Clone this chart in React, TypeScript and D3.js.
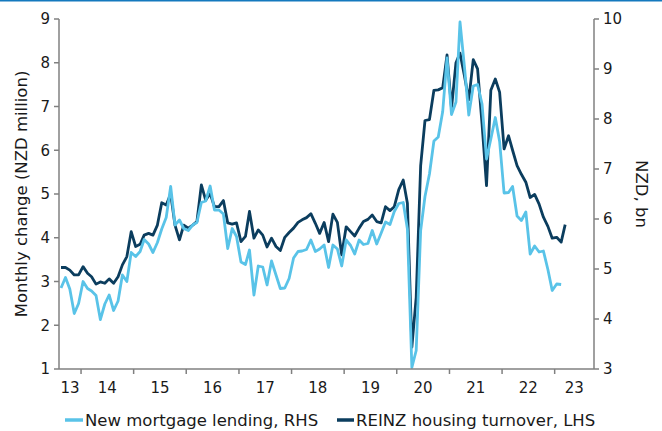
import React from 'react';
import * as d3 from 'd3';

// Monthly data starting August 2013
const START_YEAR = 2013;
const START_MONTH = 7; // 0-based: August

const yearLabels = ['13', '14', '15', '16', '17', '18', '19', '20', '21', '22', '23'];
const labelYears = [2013, 2014, 2015, 2016, 2017, 2018, 2019, 2020, 2021, 2022, 2023];
const tickYears = [2014, 2015, 2016, 2017, 2018, 2019, 2020, 2021, 2022, 2023];
const leftTicks = [1, 2, 3, 4, 5, 6, 7, 8, 9];
const rightTicks = [3, 4, 5, 6, 7, 8, 9, 10];

// REINZ housing turnover, LHS
const turnover = [
  3.32, 3.32, 3.26, 3.15, 3.15, 3.34, 3.19, 3.11, 2.94, 2.99,
  2.96, 3.06, 2.96, 3.11, 3.38, 3.57, 4.14, 3.80, 3.85, 4.06,
  4.10, 4.06, 4.29, 4.80, 4.75, 5.00, 4.29, 3.95, 4.29, 4.22,
  4.29, 4.37, 5.21, 4.86, 5.01, 4.71, 4.71, 4.85, 4.34, 4.31,
  4.34, 3.91, 4.03, 4.60, 3.99, 4.18, 4.06, 3.79, 3.99, 3.80,
  3.71, 4.01, 4.12, 4.22, 4.35, 4.41, 4.46, 4.55, 4.33, 4.10,
  4.35, 3.91, 4.54, 4.35, 3.61, 4.25, 4.14, 4.04, 4.22, 4.37,
  4.42, 4.52, 4.37, 4.34, 4.71, 4.62, 4.71, 5.10, 5.32, 4.79,
  1.50, 2.64, 5.65, 6.68, 6.70, 7.37, 7.38, 7.43, 8.18, 6.96,
  8.00, 8.22, 7.70, 7.15, 8.07, 7.86, 6.60, 5.19, 7.37, 7.63,
  7.33, 6.03, 6.33, 6.00, 5.65, 5.45, 5.27, 4.92, 4.99, 4.77,
  4.47, 4.26, 3.99, 4.01, 3.90, 4.30,
];

// New mortgage lending, RHS
const mortgage = [
  4.62, 4.83, 4.60, 4.11, 4.31, 4.75, 4.61, 4.56, 4.47, 3.99,
  4.30, 4.48, 4.17, 4.36, 4.88, 4.75, 5.33, 5.25, 5.35, 5.59,
  5.50, 5.33, 5.53, 5.80, 6.03, 6.65, 5.88, 5.98, 5.81, 5.77,
  5.88, 5.93, 6.33, 6.36, 6.66, 6.18, 6.18, 6.10, 5.41, 5.81,
  5.65, 5.14, 5.09, 5.38, 4.48, 5.06, 5.04, 4.68, 5.16, 4.88,
  4.61, 4.62, 4.81, 5.22, 5.35, 5.36, 5.39, 5.58, 5.35, 5.40,
  5.48, 5.03, 5.48, 5.40, 5.06, 5.58, 5.47, 5.30, 5.58, 5.49,
  5.51, 5.77, 5.50, 5.72, 5.94, 5.89, 6.15, 6.31, 6.33, 5.80,
  3.03, 3.37, 5.77, 6.45, 6.90, 7.56, 7.64, 8.15, 9.22, 8.09,
  8.34, 9.94, 9.04, 8.08, 8.66, 8.69, 8.30, 7.20, 7.60, 8.03,
  7.55, 6.52, 6.53, 6.65, 6.06, 5.97, 6.14, 5.30, 5.46, 5.34,
  5.36, 4.99, 4.57, 4.70, 4.69,
];

const legendItems = ['New mortgage lending, RHS', 'REINZ housing turnover, LHS'];

const LIGHT = '#59c3e8';
const DARK = '#0b3d5e';
const AXIS = '#808080';
const TEXT = '#1a1a1a';
const FONT = '"DejaVu Sans", Verdana, sans-serif';

export default function App() {
  const W = 662;
  const H = 431;
  const left = 59;
  const right = 594;
  const top = 19;
  const bottom = 369;

  const domainStart = new Date(2013, 7, 1);
  const domainEnd = new Date(2023, 9, 1);
  const x = d3.scaleTime().domain([domainStart, domainEnd]).range([left, right]);
  const yL = d3.scaleLinear().domain([1, 9]).range([bottom, top]);
  const yR = d3.scaleLinear().domain([3, 10]).range([bottom, top]);

  const dateOf = (i: number) => new Date(START_YEAR, START_MONTH + i, 15);

  const lineL = d3
    .line<number>()
    .x((_, i) => x(dateOf(i)))
    .y((d) => yL(d))
    .curve(d3.curveLinear);
  const lineR = d3
    .line<number>()
    .x((_, i) => x(dateOf(i)))
    .y((d) => yR(d))
    .curve(d3.curveLinear);

  const labelX = (yr: number) => {
    const a = Math.max(+new Date(yr, 0, 1), +domainStart);
    const b = Math.min(+new Date(yr + 1, 0, 1), +domainEnd);
    return (x(new Date(a)) + x(new Date(b))) / 2;
  };

  return (
    <svg
      width={W}
      height={H}
      style={{ position: 'absolute', left: 0, top: 0, background: '#fff' }}
      fontFamily={FONT}
    >
      <rect x={0} y={0} width={W} height={H} fill="#fff" />
      <line x1={0} x2={W} y1={0.75} y2={0.75} stroke="#1479be" strokeWidth={1.5} />

      {/* data lines */}
      <path d={lineL(turnover) || ''} fill="none" stroke={DARK} strokeWidth={2.8} strokeLinejoin="round" />
      <path d={lineR(mortgage) || ''} fill="none" stroke={LIGHT} strokeWidth={2.8} strokeLinejoin="round" />

      {/* left axis */}
      <line x1={left} x2={left} y1={top} y2={bottom} stroke={AXIS} strokeWidth={1.5} />
      {leftTicks.map((t) => (
        <g key={'l' + t}>
          <line x1={left - 5} x2={left} y1={yL(t)} y2={yL(t)} stroke={AXIS} strokeWidth={1.5} />
          <text x={50} y={yL(t)} dy="0.36em" textAnchor="end" fontSize={15} fill={TEXT}>
            {t}
          </text>
        </g>
      ))}

      {/* right axis */}
      <line x1={right} x2={right} y1={top} y2={bottom} stroke={AXIS} strokeWidth={1.5} />
      {rightTicks.map((t) => (
        <g key={'r' + t}>
          <line x1={right} x2={right + 5} y1={yR(t)} y2={yR(t)} stroke={AXIS} strokeWidth={1.5} />
          <text x={603} y={yR(t)} dy="0.36em" textAnchor="start" fontSize={15} fill={TEXT}>
            {t}
          </text>
        </g>
      ))}

      {/* x axis */}
      <line x1={left} x2={right} y1={bottom} y2={bottom} stroke={AXIS} strokeWidth={1.5} />
      {tickYears.map((yr) => (
        <line
          key={'t' + yr}
          x1={x(new Date(yr, 0, 1))}
          x2={x(new Date(yr, 0, 1))}
          y1={bottom}
          y2={bottom + 5}
          stroke={AXIS}
          strokeWidth={1.5}
        />
      ))}
      {labelYears.map((yr, i) => (
        <text key={'xl' + yr} x={labelX(yr)} y={393} textAnchor="middle" fontSize={15} fill={TEXT}>
          {yearLabels[i]}
        </text>
      ))}

      {/* axis titles */}
      <text
        transform={`translate(27, ${(top + bottom) / 2}) rotate(-90)`}
        textAnchor="middle"
        fontSize={16.5}
        fill={TEXT}
      >
        Monthly change (NZD million)
      </text>
      <text
        transform={`translate(636, ${(top + bottom) / 2}) rotate(90)`}
        textAnchor="middle"
        fontSize={16.5}
        fill={TEXT}
      >
        NZD, bn
      </text>

      {/* legend */}
      <line x1={65} x2={83} y1={420} y2={420} stroke={LIGHT} strokeWidth={3.5} />
      <text x={85} y={425.5} fontSize={16.5} fill={TEXT}>
        {legendItems[0]}
      </text>
      <line x1={337} x2={354} y1={420} y2={420} stroke={DARK} strokeWidth={3.5} />
      <text x={356} y={425.5} fontSize={16.5} fill={TEXT}>
        {legendItems[1]}
      </text>
    </svg>
  );
}
